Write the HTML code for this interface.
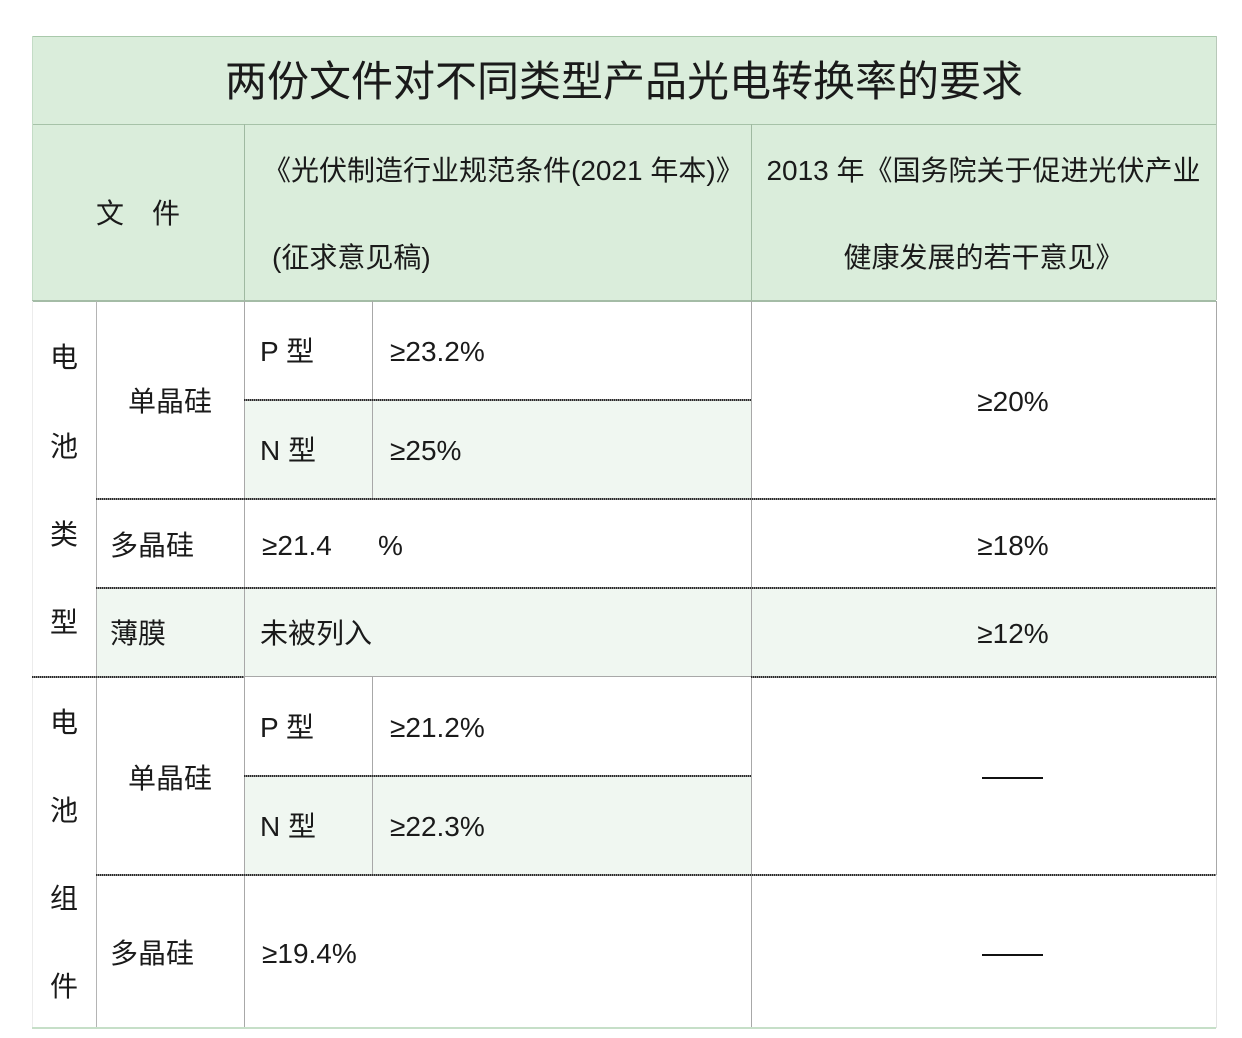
<!DOCTYPE html>
<html>
<head>
<meta charset="utf-8">
<style>
  html,body{margin:0;padding:0;background:#fff;}
  body{width:1242px;height:1038px;position:relative;overflow:hidden;
       font-family:"Liberation Sans","Noto Sans CJK SC",sans-serif;color:#1a1a1a;}
  .bg{position:absolute;}
  .h{position:absolute;height:1px;}
  .v{position:absolute;width:1px;}
  .dot{position:absolute;height:2px;
       background:repeating-linear-gradient(90deg,#2a2a2a 0 1px,#8a8a8a 1px 2px);}
  .t{position:absolute;white-space:nowrap;font-size:28px;height:40px;line-height:40px;}
  .c{text-align:center;}
</style>
</head>
<body>
<!-- backgrounds -->
<div class="bg" style="left:32px;top:36px;width:1184px;height:264px;background:#daeddb;"></div>
<div class="bg" style="left:244px;top:400px;width:507px;height:98px;background:#f0f7f1;"></div>
<div class="bg" style="left:96px;top:588px;width:1120px;height:88px;background:#f0f7f1;"></div>
<div class="bg" style="left:244px;top:776px;width:507px;height:98px;background:#f0f7f1;"></div>

<!-- header lines -->
<div class="h" style="left:32px;top:36px;width:1184px;background:#a9c9ab;"></div>
<div class="h" style="left:32px;top:124px;width:1184px;background:#a6c2a8;"></div>
<div class="h" style="left:32px;top:300px;width:1184px;height:2px;background:#a4bca6;"></div>
<div class="v" style="left:32px;top:36px;height:264px;background:#c4dcc6;"></div>
<div class="v" style="left:1216px;top:36px;height:264px;background:#b8c8b9;"></div>
<div class="v" style="left:244px;top:124px;height:176px;background:#9fb9a1;"></div>
<div class="v" style="left:751px;top:124px;height:176px;background:#9fb9a1;"></div>

<!-- body verticals -->
<div class="v" style="left:32px;top:301px;height:727px;background:#ececec;"></div>
<div class="v" style="left:96px;top:301px;height:727px;background:#b4b4b4;"></div>
<div class="v" style="left:244px;top:301px;height:727px;background:#a8a8a8;"></div>
<div class="v" style="left:372px;top:301px;height:197px;background:#a8a8a8;"></div>
<div class="v" style="left:372px;top:677px;height:197px;background:#a8a8a8;"></div>
<div class="v" style="left:751px;top:301px;height:727px;background:#a8a8a8;"></div>
<div class="v" style="left:1216px;top:301px;height:574px;background:#a8a8a8;"></div>
<div class="v" style="left:1216px;top:875px;height:153px;background:#e4e4e4;"></div>

<!-- body horizontals -->
<div class="dot" style="left:244px;top:399px;width:507px;"></div>
<div class="dot" style="left:96px;top:498px;width:1120px;"></div>
<div class="dot" style="left:96px;top:587px;width:1120px;"></div>
<div class="dot" style="left:32px;top:676px;width:212px;"></div>
<div class="h" style="left:244px;top:676px;width:507px;background:#a8a8a8;"></div>
<div class="dot" style="left:751px;top:676px;width:465px;"></div>
<div class="dot" style="left:244px;top:775px;width:507px;"></div>
<div class="dot" style="left:96px;top:874px;width:1120px;"></div>
<div class="h" style="left:32px;top:1027px;width:1184px;height:2px;background:#c6dfc8;"></div>

<!-- title -->
<div class="t c" style="left:32px;width:1184px;top:52px;height:60px;line-height:60px;font-size:42px;">两份文件对不同类型产品光电转换率的要求</div>

<!-- header text -->
<div class="t" style="left:96px;top:194px;">文　件</div>
<div class="t" style="left:263px;top:151px;">《光伏制造行业规范条件(2021 年本)》</div>
<div class="t" style="left:272px;top:238px;">(征求意见稿)</div>
<div class="t c" style="left:751px;width:465px;top:151px;">2013 年《国务院关于促进光伏产业</div>
<div class="t c" style="left:751px;width:465px;top:238px;">健康发展的若干意见》</div>

<!-- left column -->
<div class="t c" style="left:32px;width:64px;top:338px;">电</div>
<div class="t c" style="left:32px;width:64px;top:427px;">池</div>
<div class="t c" style="left:32px;width:64px;top:515px;">类</div>
<div class="t c" style="left:32px;width:64px;top:603px;">型</div>
<div class="t c" style="left:32px;width:64px;top:703px;">电</div>
<div class="t c" style="left:32px;width:64px;top:791px;">池</div>
<div class="t c" style="left:32px;width:64px;top:879px;">组</div>
<div class="t c" style="left:32px;width:64px;top:967px;">件</div>

<!-- 电池类型 -->
<div class="t" style="left:128px;top:382px;">单晶硅</div>
<div class="t" style="left:260px;top:332px;">P 型</div>
<div class="t" style="left:390px;top:332px;">≥23.2%</div>
<div class="t" style="left:260px;top:431px;">N 型</div>
<div class="t" style="left:390px;top:431px;">≥25%</div>
<div class="t c" style="left:751px;width:524px;top:382px;">≥20%</div>

<div class="t" style="left:110px;top:526px;">多晶硅</div>
<div class="t" style="left:262px;top:526px;">≥21.4</div>
<div class="t" style="left:378px;top:526px;">%</div>
<div class="t c" style="left:751px;width:524px;top:526px;">≥18%</div>

<div class="t" style="left:110px;top:614px;">薄膜</div>
<div class="t" style="left:260px;top:614px;">未被列入</div>
<div class="t c" style="left:751px;width:524px;top:614px;">≥12%</div>

<!-- 电池组件 -->
<div class="t" style="left:128px;top:759px;">单晶硅</div>
<div class="t" style="left:260px;top:708px;">P 型</div>
<div class="t" style="left:390px;top:708px;">≥21.2%</div>
<div class="t" style="left:260px;top:807px;">N 型</div>
<div class="t" style="left:390px;top:807px;">≥22.3%</div>
<div class="bg" style="left:982px;top:777px;width:61px;height:2px;background:#111;"></div>

<div class="t" style="left:110px;top:934px;">多晶硅</div>
<div class="t" style="left:262px;top:934px;">≥19.4%</div>
<div class="bg" style="left:982px;top:954px;width:61px;height:2px;background:#111;"></div>
</body>
</html>
